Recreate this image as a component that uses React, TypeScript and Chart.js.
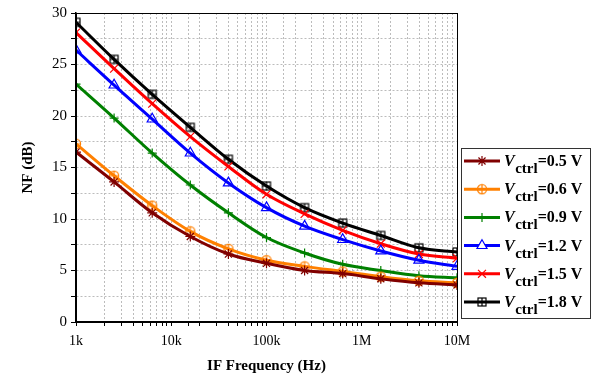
import React, { useEffect, useRef } from 'react';
import { Chart, registerables } from 'chart.js';
import { drawPoint } from 'chart.js/helpers';

Chart.register(...registerables);

// ---------- data ----------
const freqHz = [1e3, 2.512e3, 6.31e3, 1.585e4, 3.981e4, 1e5, 2.512e5, 6.31e5, 1.585e6, 3.981e6, 1e7];
const nf05 = [16.5, 13.6, 10.6, 8.3, 6.6, 5.7, 5.0, 4.7, 4.2, 3.8, 3.6];
const nf06 = [17.3, 14.2, 11.3, 8.8, 7.1, 6.0, 5.4, 4.9, 4.4, 4.0, 3.8];
const nf09 = [23.1, 19.8, 16.4, 13.3, 10.6, 8.2, 6.7, 5.6, 5.0, 4.5, 4.3];
const nf12 = [26.4, 23.0, 19.7, 16.4, 13.5, 11.1, 9.3, 8.0, 6.9, 6.0, 5.4];
const nf15 = [28.1, 24.6, 21.2, 18.0, 15.1, 12.4, 10.5, 8.9, 7.6, 6.6, 6.2];
const nf18 = [29.1, 25.5, 22.1, 18.9, 15.8, 13.2, 11.1, 9.6, 8.4, 7.2, 6.8];
const seriesValues = [nf05, nf06, nf09, nf12, nf15, nf18];
const seriesVctrl = ['0.5 V', '0.6 V', '0.9 V', '1.2 V', '1.5 V', '1.8 V'];
const seriesColors = ['#800000', '#ff8000', '#008000', '#0000ff', '#ff0000', '#000000'];
const seriesMarkers = ['star', 'circlePlus', 'cross', 'triangle', 'crossRot', 'rectPlus'];
const xMajorLabels: Record<number, string> = { 1000: '1k', 10000: '10k', 100000: '100k', 1000000: '1M', 10000000: '10M' };
const xTitle = 'IF Frequency (Hz)';
const yTitle = 'NF (dB)';

const SERIF = "'Liberation Serif', 'Times New Roman', serif";

function makeMarker(kind: string, color: string): any {
  if (kind !== 'circlePlus' && kind !== 'rectPlus') return kind;
  const c = document.createElement('canvas');
  const s = 12;
  c.width = s; c.height = s;
  const g = c.getContext('2d')!;
  g.strokeStyle = color;
  g.lineWidth = 1.2;
  const m = s / 2;
  if (kind === 'circlePlus') {
    g.beginPath(); g.arc(m, m, 4.6, 0, Math.PI * 2); g.stroke();
    g.beginPath(); g.moveTo(m - 4.6, m); g.lineTo(m + 4.6, m); g.moveTo(m, m - 4.6); g.lineTo(m, m + 4.6); g.stroke();
  } else {
    g.strokeRect(m - 4, m - 4, 8, 8);
    g.beginPath(); g.moveTo(m - 4, m); g.lineTo(m + 4, m); g.moveTo(m, m - 4); g.lineTo(m, m + 4); g.stroke();
  }
  return c;
}

export default function App() {
  const ref = useRef<HTMLCanvasElement>(null);

  useEffect(() => {
    document.body.style.margin = '0';
    const markers = seriesMarkers.map((k, i) => makeMarker(k, seriesColors[i]));
    const radii = [5, 5, 4.5, 5.8, 5.6, 5];

    const legendPlugin = {
      id: 'customLegend',
      afterDraw(chart: any) {
        const ctx = chart.ctx as CanvasRenderingContext2D;
        const a = chart.chartArea;
        ctx.save();
        // plot frame
        ctx.strokeStyle = '#000';
        ctx.lineWidth = 1;
        ctx.strokeRect(a.left + 0.5, a.top + 0.5, a.right - a.left, a.bottom - a.top);
        // legend box
        ctx.strokeStyle = '#333';
        ctx.strokeRect(461.5, 148.5, 129, 170);
        for (let i = 0; i < seriesValues.length; i++) {
          const y = 161 + i * 28.2;
          ctx.strokeStyle = seriesColors[i];
          ctx.lineWidth = 3;
          ctx.beginPath(); ctx.moveTo(464, y); ctx.lineTo(500, y); ctx.stroke();
          const mk = markers[i];
          if (typeof mk === 'string') {
            ctx.lineWidth = 1.2;
            ctx.fillStyle = '#fff';
            drawPoint(ctx, { pointStyle: mk, rotation: 0, radius: radii[i], borderWidth: 1.2 } as any, 482, y);
          } else {
            ctx.fillStyle = '#fff';
            ctx.drawImage(mk, 482 - mk.width / 2, y - mk.height / 2);
          }
          ctx.fillStyle = '#000';
          ctx.textBaseline = 'alphabetic';
          ctx.textAlign = 'left';
          let x = 504;
          ctx.font = `italic bold 16px ${SERIF}`;
          ctx.fillText('V', x, y + 5);
          x += ctx.measureText('V').width + 0.5;
          ctx.font = `bold 15px ${SERIF}`;
          ctx.fillText('ctrl', x, y + 12);
          x += ctx.measureText('ctrl').width;
          ctx.font = `bold 16px ${SERIF}`;
          ctx.fillText('=' + seriesVctrl[i], x, y + 5);
        }
        ctx.restore();
      },
    };

    const chart = new Chart(ref.current!, {
      type: 'line',
      data: {
        datasets: seriesValues.map((vals, i) => ({
          label: 'Vctrl=' + seriesVctrl[i],
          data: vals.map((v, j) => ({ x: freqHz[j], y: v })),
          borderColor: seriesColors[i],
          backgroundColor: 'rgba(0,0,0,0)',
          borderWidth: 3,
          pointStyle: markers[i],
          pointRadius: radii[i],
          pointBorderWidth: 1.2,
          pointBorderColor: seriesColors[i],
          pointBackgroundColor: 'rgba(0,0,0,0)',
          cubicInterpolationMode: 'monotone' as const,
          fill: false,
        })),
      },
      plugins: [legendPlugin],
      options: {
        responsive: false,
        animation: false,
        layout: { padding: { top: 13, right: 135, left: 0, bottom: 0 } },
        plugins: { legend: { display: false }, tooltip: { enabled: false } },
        scales: {
          x: {
            type: 'logarithmic',
            min: 1000,
            max: 1e7,
            afterFit: (s: any) => { s.height = 56; },
            grid: { color: '#bcbcbc', lineWidth: 1, tickColor: '#000', tickLength: 4 },
            border: { color: '#000', width: 1.5, dash: [2, 2] },
            ticks: {
              autoSkip: false,
              maxRotation: 0,
              color: '#000',
              padding: 7,
              font: { family: SERIF, size: 14 },
              callback: (v: any) => xMajorLabels[Math.round(Number(v))] ?? '',
            },
            title: {
              display: true,
              text: xTitle,
              color: '#000',
              font: { family: SERIF, size: 15, weight: 'bold' },
              padding: { top: 6, bottom: 3 },
            },
          },
          y: {
            type: 'linear',
            min: 0,
            max: 30,
            afterFit: (s: any) => { s.width = 76; },
            grid: { color: '#bcbcbc', lineWidth: 1, tickColor: '#000', tickLength: 5 },
            border: { color: '#000', width: 1.5, dash: [2, 2] },
            ticks: {
              stepSize: 2.5,
              color: '#000',
              padding: 4,
              font: { family: SERIF, size: 15 },
              callback: (v: any) => (Number(v) % 5 === 0 ? String(v) : ''),
            },
            title: {
              display: true,
              text: yTitle,
              color: '#000',
              font: { family: SERIF, size: 15, weight: 'bold' },
              padding: { top: 19, bottom: 6 },
            },
          },
        },
      },
    } as any);
    return () => chart.destroy();
  }, []);

  return (
    <div style={{ width: 592, height: 378 }}>
      <canvas ref={ref} width={592} height={378} style={{ width: 592, height: 378, display: 'block' }} />
    </div>
  );
}
